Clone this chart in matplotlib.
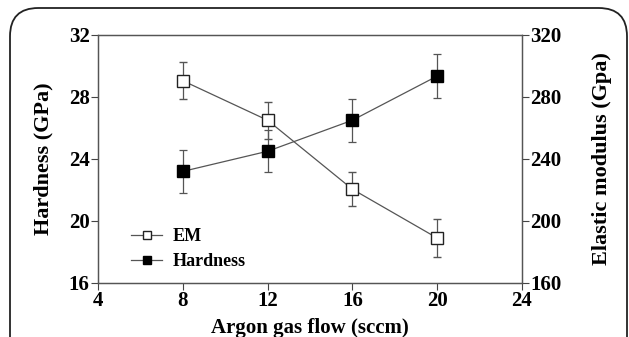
import matplotlib
matplotlib.use("Agg")
import matplotlib.pyplot as plt
from matplotlib.patches import FancyBboxPatch
from matplotlib.lines import Line2D

flow = [8, 12, 16, 20]
hardness = [23.2, 24.5, 26.5, 29.35]
hardness_err = [1.4, 1.35, 1.4, 1.4]
em = [290.5, 265.0, 220.5, 189.0]
em_err = [12, 12, 11, 12]

x_ticks = [4, 8, 12, 16, 20, 24]
left_ticks = [16, 20, 24, 28, 32]
right_ticks = [160, 200, 240, 280, 320]

plt.rcParams['font.family'] = ['Liberation Serif', 'DejaVu Serif']
plt.rcParams['font.weight'] = 'bold'

fig = plt.figure(figsize=(6.29, 3.37), dpi=100)
border = FancyBboxPatch((10 / 629, -0.2), 617 / 629, 1.2 - 8 / 337,
                        boxstyle="round,pad=0,rounding_size=0.045",
                        transform=fig.transFigure, fill=False,
                        edgecolor='#222222', linewidth=1.3, mutation_aspect=629 / 337)
fig.patches.append(border)

ax = fig.add_axes([98 / 629, 54 / 337, 424 / 629, 248 / 337])
ax2 = ax.twinx()

lc = '#555555'
ax2.errorbar(flow, em, yerr=em_err, color=lc, lw=0.9, elinewidth=0.9,
             capsize=3, capthick=0.9, marker='s', markersize=8.5,
             markerfacecolor='white', markeredgecolor='#222222',
             markeredgewidth=1.0)
ax.errorbar(flow, hardness, yerr=hardness_err, color=lc, lw=0.9, elinewidth=0.9,
            capsize=3, capthick=0.9, marker='s', markersize=8.5,
            markerfacecolor='black', markeredgecolor='black')

ax.set_xlim(4, 24)
ax.set_ylim(16, 32)
ax2.set_ylim(160, 320)
ax.set_xticks(x_ticks)
ax.set_yticks(left_ticks)
ax2.set_yticks(right_ticks)

for a in (ax, ax2):
    a.tick_params(direction='out', length=5, width=0.8, labelsize=15, pad=1, color='#444444')
    for s in a.spines.values():
        s.set_color('#555555')
        s.set_linewidth(0.9)

ax.set_xlabel('Argon gas flow (sccm)', fontsize=15, fontweight='bold', labelpad=5)
ax.set_ylabel('Hardness (GPa)', fontsize=16, fontweight='bold', labelpad=11)
ax2.set_ylabel('Elastic modulus (Gpa)', fontsize=16, fontweight='bold', labelpad=22)

hem = Line2D([], [], color=lc, lw=0.9, marker='s', markersize=5.5,
             markerfacecolor='white', markeredgecolor='#222222')
hh = Line2D([], [], color=lc, lw=0.9, marker='s', markersize=5.5,
            markerfacecolor='black', markeredgecolor='black')
ax.legend([hem, hh], ['EM', 'Hardness'], loc='lower left',
          bbox_to_anchor=(0.04, -0.015), frameon=False, fontsize=13,
          handlelength=1.7, handletextpad=0.6, labelspacing=0.45)

fig.savefig('out.png', dpi=100)
